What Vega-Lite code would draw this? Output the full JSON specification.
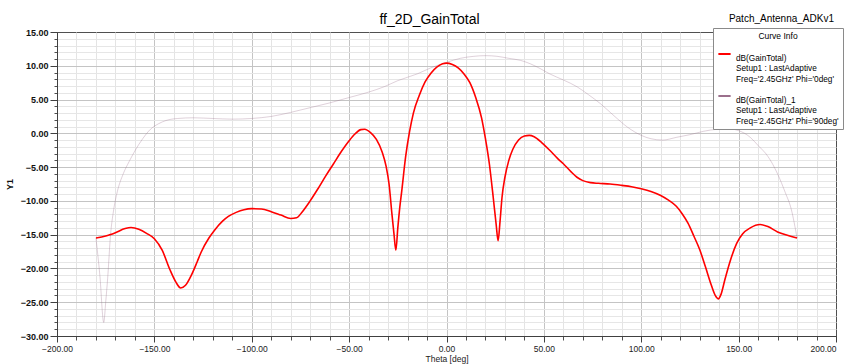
{
  "$schema": "https://vega.github.io/schema/vega-lite/v6.json",
  "width": 779,
  "height": 304,
  "autosize": {"type": "none"},
  "padding": {"left": 57, "top": 32, "right": 9, "bottom": 28},
  "background": "white",
  "title": {
    "text": "ff_2D_GainTotal",
    "font": "Liberation Sans",
    "fontSize": 14,
    "fontWeight": "normal",
    "color": "#000000",
    "anchor": "middle",
    "frame": "group",
    "baseline": "alphabetic",
    "offset": -24,
    "dx": -17
  },
  "config": {
    "view": {"stroke": "#505050", "strokeWidth": 1},
    "font": "Liberation Sans"
  },
  "datasets": {
    "phi0": [
      {"theta": -180, "gain": -15.5}, {"theta": -175, "gain": -15.2}, {"theta": -170, "gain": -14.7},
      {"theta": -165, "gain": -14.1}, {"theta": -162, "gain": -13.95}, {"theta": -158, "gain": -14.2},
      {"theta": -154, "gain": -14.8}, {"theta": -150, "gain": -15.6}, {"theta": -146, "gain": -17.3},
      {"theta": -142, "gain": -20.2}, {"theta": -139, "gain": -22.0}, {"theta": -136.5, "gain": -22.9},
      {"theta": -134, "gain": -22.5}, {"theta": -131, "gain": -21.0}, {"theta": -128, "gain": -19.0},
      {"theta": -126, "gain": -17.6}, {"theta": -122, "gain": -15.5}, {"theta": -119, "gain": -14.3},
      {"theta": -115, "gain": -13.0}, {"theta": -112, "gain": -12.3}, {"theta": -108, "gain": -11.7},
      {"theta": -104, "gain": -11.3}, {"theta": -100, "gain": -11.15}, {"theta": -95, "gain": -11.2},
      {"theta": -90, "gain": -11.6}, {"theta": -85, "gain": -12.1}, {"theta": -80, "gain": -12.6},
      {"theta": -77, "gain": -12.5}, {"theta": -74, "gain": -11.6}, {"theta": -70, "gain": -10.0},
      {"theta": -66, "gain": -8.2}, {"theta": -62, "gain": -6.3}, {"theta": -58, "gain": -4.5},
      {"theta": -54, "gain": -2.7}, {"theta": -50, "gain": -1.1}, {"theta": -47, "gain": -0.1},
      {"theta": -44, "gain": 0.55}, {"theta": -42, "gain": 0.6}, {"theta": -39, "gain": 0.1},
      {"theta": -36, "gain": -0.9}, {"theta": -33, "gain": -2.8}, {"theta": -31, "gain": -4.9},
      {"theta": -29.5, "gain": -7.5}, {"theta": -28, "gain": -12.0}, {"theta": -27, "gain": -14.8},
      {"theta": -26, "gain": -17.3}, {"theta": -25, "gain": -14.0}, {"theta": -24, "gain": -11.0},
      {"theta": -23, "gain": -8.6}, {"theta": -21, "gain": -3.5}, {"theta": -19, "gain": 0.2},
      {"theta": -17, "gain": 3.0}, {"theta": -14, "gain": 5.6}, {"theta": -11, "gain": 7.6},
      {"theta": -8, "gain": 8.9}, {"theta": -5, "gain": 9.8}, {"theta": -2, "gain": 10.3},
      {"theta": 0, "gain": 10.4}, {"theta": 3, "gain": 10.2}, {"theta": 6, "gain": 9.7},
      {"theta": 9, "gain": 8.8}, {"theta": 12, "gain": 7.5}, {"theta": 15, "gain": 5.3},
      {"theta": 18, "gain": 2.3}, {"theta": 20, "gain": -0.8}, {"theta": 22, "gain": -4.5},
      {"theta": 24, "gain": -9.5}, {"theta": 25.5, "gain": -13.5}, {"theta": 26.5, "gain": -15.9},
      {"theta": 27.5, "gain": -13.0}, {"theta": 28.5, "gain": -9.5}, {"theta": 30, "gain": -6.5},
      {"theta": 32, "gain": -4.0}, {"theta": 34, "gain": -2.4}, {"theta": 37, "gain": -1.0},
      {"theta": 40, "gain": -0.4}, {"theta": 42.5, "gain": -0.3}, {"theta": 45, "gain": -0.5},
      {"theta": 49, "gain": -1.4}, {"theta": 53, "gain": -2.5}, {"theta": 57, "gain": -3.7},
      {"theta": 60, "gain": -4.5}, {"theta": 64, "gain": -5.7}, {"theta": 67, "gain": -6.5},
      {"theta": 70, "gain": -7.0}, {"theta": 74, "gain": -7.3}, {"theta": 78, "gain": -7.4},
      {"theta": 84, "gain": -7.5}, {"theta": 90, "gain": -7.7}, {"theta": 95, "gain": -7.9},
      {"theta": 100, "gain": -8.2}, {"theta": 105, "gain": -8.6}, {"theta": 110, "gain": -9.2},
      {"theta": 114, "gain": -9.9}, {"theta": 118, "gain": -10.8}, {"theta": 121, "gain": -11.9},
      {"theta": 124, "gain": -13.3}, {"theta": 127, "gain": -15.2}, {"theta": 130, "gain": -17.2},
      {"theta": 133, "gain": -19.8}, {"theta": 136, "gain": -22.5}, {"theta": 138, "gain": -24.0},
      {"theta": 139.5, "gain": -24.5}, {"theta": 141, "gain": -23.8}, {"theta": 143, "gain": -21.6},
      {"theta": 146, "gain": -18.6}, {"theta": 149, "gain": -16.3}, {"theta": 152, "gain": -14.9},
      {"theta": 156, "gain": -14.0}, {"theta": 161, "gain": -13.5}, {"theta": 165, "gain": -13.8},
      {"theta": 170, "gain": -14.6}, {"theta": 175, "gain": -15.1}, {"theta": 180, "gain": -15.5}
    ],
    "phi90": [
      {"theta": -180, "gain": -15.5}, {"theta": -178, "gain": -21.0}, {"theta": -176, "gain": -28.0},
      {"theta": -175, "gain": -25.0}, {"theta": -174, "gain": -21.5}, {"theta": -172.5, "gain": -15.0},
      {"theta": -171, "gain": -11.5}, {"theta": -169, "gain": -8.6}, {"theta": -166, "gain": -6.0},
      {"theta": -163, "gain": -4.2}, {"theta": -160, "gain": -2.6}, {"theta": -156, "gain": -0.8},
      {"theta": -152, "gain": 0.6}, {"theta": -148, "gain": 1.4}, {"theta": -144, "gain": 1.9},
      {"theta": -138, "gain": 2.2}, {"theta": -130, "gain": 2.3}, {"theta": -120, "gain": 2.2},
      {"theta": -110, "gain": 2.1}, {"theta": -100, "gain": 2.2}, {"theta": -90, "gain": 2.5},
      {"theta": -80, "gain": 3.1}, {"theta": -70, "gain": 3.8}, {"theta": -60, "gain": 4.5},
      {"theta": -50, "gain": 5.3}, {"theta": -40, "gain": 6.1}, {"theta": -32, "gain": 6.9},
      {"theta": -25, "gain": 7.8}, {"theta": -15, "gain": 8.8}, {"theta": -8, "gain": 9.7},
      {"theta": 0, "gain": 10.5}, {"theta": 7, "gain": 11.1}, {"theta": 14, "gain": 11.4},
      {"theta": 20, "gain": 11.5}, {"theta": 26, "gain": 11.4}, {"theta": 32, "gain": 11.1},
      {"theta": 38, "gain": 10.8}, {"theta": 43, "gain": 10.3}, {"theta": 48, "gain": 9.6},
      {"theta": 53, "gain": 8.8}, {"theta": 60, "gain": 7.9}, {"theta": 67, "gain": 6.9},
      {"theta": 73, "gain": 5.7}, {"theta": 79, "gain": 4.4}, {"theta": 86, "gain": 2.6},
      {"theta": 93, "gain": 0.9}, {"theta": 100, "gain": -0.3}, {"theta": 105, "gain": -0.8},
      {"theta": 111, "gain": -1.0}, {"theta": 118, "gain": -0.6}, {"theta": 125, "gain": -0.2},
      {"theta": 132, "gain": 0.3}, {"theta": 139, "gain": 0.6}, {"theta": 145, "gain": 0.65},
      {"theta": 150, "gain": 0.4}, {"theta": 156, "gain": -0.6}, {"theta": 160, "gain": -1.8},
      {"theta": 165, "gain": -3.4}, {"theta": 170, "gain": -6.0}, {"theta": 174, "gain": -8.8},
      {"theta": 177, "gain": -11.2}, {"theta": 180, "gain": -15.5}
    ],
    "labels": [{"label": "Patch_Antenna_ADKv1"}]
  },
  "resolve": {"axis": {"x": "independent", "y": "independent"}},
  "layer": [
    {
      "data": {"name": "phi90"},
      "transform": [{"calculate": "'dB(GainTotal)_1|Setup1 : LastAdaptive|Freq=\\'2.45GHz\\' Phi=\\'90deg\\''", "as": "curve"}],
      "mark": {"type": "line", "strokeWidth": 1, "strokeOpacity": 0.32, "clip": true, "interpolate": "monotone"},
      "encoding": {
        "x": {
          "field": "theta", "type": "quantitative",
          "scale": {"domain": [-200, 200], "nice": false, "zero": false},
          "axis": {
            "orient": "bottom",
            "values": [-200,-190,-180,-170,-160,-150,-140,-130,-120,-110,-100,-90,-80,-70,-60,-50,-40,-30,-20,-10,0,10,20,30,40,50,60,70,80,90,100,110,120,130,140,150,160,170,180,190,200],
            "labels": false, "domain": false, "title": null,
            "tickSize": 4, "tickColor": "#505050",
            "grid": true,
            "gridColor": {"condition": [{"test": "datum.value === -200 || datum.value === 200", "value": "rgba(0,0,0,0)"}, {"test": "datum.value % 50 === 0", "value": "#c4c4c4"}], "value": "#e4e4e4"},
            "gridWidth": 1
          }
        },
        "y": {
          "field": "gain", "type": "quantitative",
          "scale": {"domain": [-30, 15], "nice": false, "zero": false},
          "axis": {
            "orient": "left",
            "values": [-30,-29,-28,-27,-26,-25,-24,-23,-22,-21,-20,-19,-18,-17,-16,-15,-14,-13,-12,-11,-10,-9,-8,-7,-6,-5,-4,-3,-2,-1,0,1,2,3,4,5,6,7,8,9,10,11,12,13,14,15],
            "labels": false, "domain": false, "title": null,
            "tickSize": 3, "tickColor": "#505050",
            "grid": true,
            "gridColor": {"condition": [{"test": "datum.value === -30 || datum.value === 15", "value": "rgba(0,0,0,0)"}, {"test": "datum.value % 5 === 0", "value": "#c4c4c4"}], "value": "#e6e6e6"},
            "gridWidth": 1
          }
        },
        "color": {
          "field": "curve", "type": "nominal",
          "scale": {
            "domain": ["dB(GainTotal)|Setup1 : LastAdaptive|Freq='2.45GHz' Phi='0deg'", "dB(GainTotal)_1|Setup1 : LastAdaptive|Freq='2.45GHz' Phi='90deg'"],
            "range": ["#ff0000", "#9b6f8c"]
          },
          "legend": {
            "orient": "none", "legendX": 656, "legendY": -4,
            "title": "Curve Info", "titleAnchor": "middle", "titleFont": "Liberation Sans",
            "titleFontSize": 8.5, "titleFontWeight": "normal", "titleColor": "#000000", "titlePadding": 6,
            "labelExpr": "split(datum.label, '|')",
            "labelFont": "Liberation Sans", "labelFontSize": 8.25, "labelColor": "#000000", "labelLimit": 300,
            "labelBaseline": "top", "labelOffset": 4,
            "symbolType": "stroke", "symbolSize": 150, "symbolStrokeWidth": 2, "symbolOpacity": 1,
            "strokeColor": "#8a8a8a", "fillColor": "#ffffff", "padding": 4, "rowPadding": 5
          }
        }
      }
    },
    {
      "data": {"name": "phi0"},
      "transform": [{"calculate": "'dB(GainTotal)|Setup1 : LastAdaptive|Freq=\\'2.45GHz\\' Phi=\\'0deg\\''", "as": "curve"}],
      "mark": {"type": "line", "strokeWidth": 1.6, "clip": true, "interpolate": "monotone"},
      "encoding": {
        "x": {
          "field": "theta", "type": "quantitative",
          "axis": {
            "orient": "bottom",
            "values": [-200, -150, -100, -50, 0, 50, 100, 150, 200],
            "format": ".2f",
            "grid": false,
            "domain": true, "domainColor": "#404040",
            "tickSize": 6, "tickColor": "#404040",
            "labelFont": "Liberation Sans", "labelFontSize": 8.5, "labelColor": "#222222", "labelPadding": 2,
            "labelFlush": false, "labelOverlap": false,
            "labelAlign": {"condition": {"test": "datum.value === 200", "value": "right"}, "value": "center"},
            "title": "Theta [deg]", "titleFont": "Liberation Sans", "titleFontSize": 8.5,
            "titleFontWeight": "normal", "titleColor": "#222222", "titlePadding": 2
          }
        },
        "y": {
          "field": "gain", "type": "quantitative",
          "axis": {
            "orient": "left",
            "values": [-30, -25, -20, -15, -10, -5, 0, 5, 10, 15],
            "format": ".2f",
            "grid": false,
            "domain": true, "domainColor": "#404040",
            "tickSize": 7, "tickColor": "#404040",
            "labelFont": "Liberation Sans", "labelFontSize": 9, "labelFontWeight": "bold",
            "labelColor": "#111111", "labelPadding": 2, "labelOverlap": false,
            "title": "Y1", "titleFont": "Liberation Sans", "titleFontSize": 9,
            "titleFontWeight": "bold", "titleColor": "#111111", "titlePadding": 6
          }
        },
        "color": {"field": "curve", "type": "nominal"}
      }
    },
    {
      "data": {"name": "labels"},
      "mark": {"type": "text", "align": "left", "baseline": "alphabetic", "font": "Liberation Sans", "fontSize": 10, "color": "#000000"},
      "encoding": {
        "x": {"datum": 145, "type": "quantitative", "axis": null},
        "y": {"datum": 16.5, "type": "quantitative", "axis": null},
        "text": {"field": "label"}
      }
    }
  ]
}
